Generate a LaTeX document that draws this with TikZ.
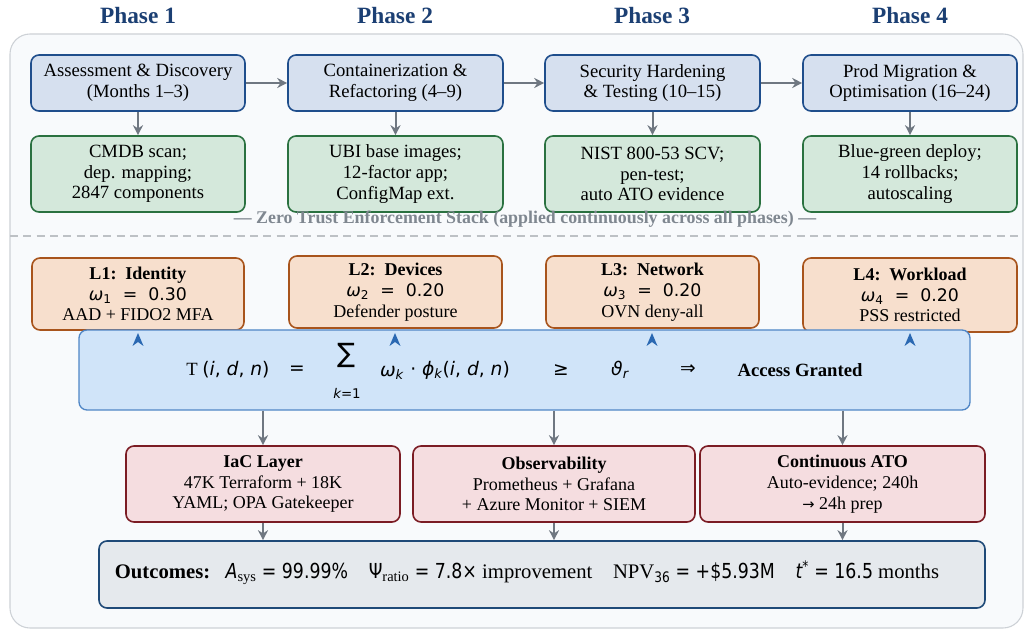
\documentclass[tikz,border=0pt]{standalone}
\usepackage{fontspec}
\setmainfont{Liberation Serif}
\newfontfamily\dvs{DejaVu Sans}
\newfontfamily\dvsn{DejaVu Sans}[FakeStretch=0.84]
\usetikzlibrary{arrows.meta}
\definecolor{phtxt}{HTML}{1B3F73}
\definecolor{bgfill}{HTML}{F8FAFC}
\definecolor{bgline}{HTML}{CDD1D6}
\definecolor{bfill}{HTML}{D6E0EF}
\definecolor{bline}{HTML}{1F4E8C}
\definecolor{gfill}{HTML}{D4E8DB}
\definecolor{gline}{HTML}{2A7140}
\definecolor{ofill}{HTML}{F7DFCD}
\definecolor{oline}{HTML}{A8541C}
\definecolor{ffill}{HTML}{D0E4F9}
\definecolor{fline}{HTML}{4F86C6}
\definecolor{rfill}{HTML}{F5DDE0}
\definecolor{rline}{HTML}{7B1C24}
\definecolor{ufill}{HTML}{E5E9ED}
\definecolor{uline}{HTML}{1F4A78}
\definecolor{agray}{HTML}{6F7781}
\definecolor{ztgray}{HTML}{7F8790}
\definecolor{tipblue}{HTML}{2A68B2}
\begin{document}
\begin{tikzpicture}[x=0.75pt,y=-0.75pt,
  sz/.style 2 args={minimum width=#1*0.75pt, minimum height=#2*0.75pt},
  basebox/.style={rounded corners=6pt, line width=1.2pt, inner sep=0pt, align=center, font=\fontsize{14}{15.6}\selectfont},
  phasebox/.style={basebox, fill=bfill, draw=bline},
  actbox/.style={basebox, fill=gfill, draw=gline},
  layerbox/.style={basebox, fill=ofill, draw=oline, font=\fontsize{13.5}{15.6}\selectfont},
  formbox/.style={basebox, fill=ffill, draw=fline, line width=1pt},
  opbox/.style={basebox, fill=rfill, draw=rline, font=\fontsize{13.5}{15.6}\selectfont},
  outbox/.style={basebox, fill=ufill, draw=uline},
  phlabel/.style={font=\fontsize{17.5}{20}\selectfont\bfseries, text=phtxt},
  flow/.style={-{Stealth[length=7.5pt,width=7.5pt]}, draw=agray, line width=1.5pt},
  tipmark/.style={fill=tipblue},
  ftxt/.style={inner sep=0pt, font=\fontsize{14}{16}\selectfont}
]
\useasboundingbox (0,0) rectangle (1025,630);
\fill[white] (0,0) rectangle (1025,630);
\draw[fill=bgfill, draw=bgline, line width=0.8pt, rounded corners=15pt] (10,34) rectangle (1023,628);

% phase labels
\node[phlabel] (ph1) at (138,16) {Phase 1};
\node[phlabel] (ph2) at (395,16) {Phase 2};
\node[phlabel] (ph3) at (652,16) {Phase 3};
\node[phlabel] (ph4) at (910,16) {Phase 4};

% phase boxes
\node[phasebox, sz={214}{56}] (p1) at (138,83) {Assessment \& Discovery\\(Months 1--3)};
\node[phasebox, sz={215}{56}] (p2) at (395.5,83) {Containerization \&\\Refactoring (4--9)};
\node[phasebox, sz={215}{56}] (p3) at (652.5,83) {Security Hardening\\\& Testing (10--15)};
\node[phasebox, sz={214}{56}] (p4) at (910,83) {Prod Migration \&\\Optimisation (16--24)};

\node[actbox, sz={214}{76}] (g1) at (138,174) {CMDB scan;\\dep. mapping;\\2847 components};
\node[actbox, sz={215}{76}] (g2) at (395.5,174) {UBI base images;\\12-factor app;\\ConfigMap ext.};
\node[actbox, sz={215}{76}] (g3) at (652.5,174) {NIST 800-53 SCV;\\pen-test;\\auto ATO evidence};
\node[actbox, sz={214}{76}] (g4) at (910,174) {Blue-green deploy;\\14 rollbacks;\\autoscaling};

\draw[flow] (p1) -- (p2);
\draw[flow] (p2) -- (p3);
\draw[flow] (p3) -- (p4);
\foreach \i in {1,2,3,4} { \draw[flow] (p\i.south) -- (g\i.north); }

% separator
\node[font=\fontsize{13.4}{14}\selectfont\bfseries, text=ztgray] (ztlabel) at (525,219) {--- Zero Trust Enforcement Stack (applied continuously across all phases) ---};
\coordinate (sepL) at (10,236);
\coordinate (sepR) at (1023,236);
\draw[draw=bgline!80!gray, line width=1.3pt, dash pattern=on 6pt off 4pt] (sepL) -- (sepR);

% layer boxes
\node[layerbox, sz={212}{72}] (l1) at (138,294) {\textbf{L1:\ \ Identity}\\{\dvs\fontsize{13}{15.6}\selectfont\itshape ω\textsubscript{\upshape 1}\upshape\ \ =\ \ 0.30}\\AAD + FIDO2 MFA};
\node[layerbox, sz={213}{72}] (l2) at (395.5,292) {\textbf{L2:\ \ Devices}\\{\dvs\fontsize{13}{15.6}\selectfont\itshape ω\textsubscript{\upshape 2}\upshape\ \ =\ \ 0.20}\\Defender posture};
\node[layerbox, sz={213}{72}] (l3) at (652.5,292) {\textbf{L3:\ \ Network}\\{\dvs\fontsize{13}{15.6}\selectfont\itshape ω\textsubscript{\upshape 3}\upshape\ \ =\ \ 0.20}\\OVN deny-all};
\node[layerbox, sz={214}{74}] (l4) at (910,295) {\textbf{L4:\ \ Workload}\\{\dvs\fontsize{13}{15.6}\selectfont\itshape ω\textsubscript{\upshape 4}\upshape\ \ =\ \ 0.20}\\PSS restricted};

% formula box
\node[formbox, sz={891}{80}] (fb) at (524.5,370) {};
\node[ftxt, anchor=west] (fT) at (186,370) {T {\dvs(\itshape i\upshape, \itshape d\upshape, \itshape n\upshape)}};
\node[ftxt] (feq) at (297,370) {\dvs =};
\node[ftxt] (fsum) at (346,355) {\dvs\fontsize{20}{20}\selectfont ∑};
\node[ftxt] (fk) at (347,393) {\dvs\fontsize{10}{10}\selectfont\itshape k\upshape=1};
\node[ftxt] (fw) at (392,373) {\dvs\itshape ω\textsubscript{k}};
\node[ftxt, anchor=west] (fphi) at (410,370) {\dvs · \itshape ϕ\textsubscript{k}\upshape(\itshape i\upshape, \itshape d\upshape, \itshape n\upshape)};
\node[ftxt] (fge) at (561,370) {\dvs ≥};
\node[ftxt] (fth) at (620,370) {\dvs\itshape ϑ\textsubscript{r}};
\node[ftxt] (fimp) at (688,370) {\dvs ⇒};
\node[ftxt] (fag) at (800,370) {\textbf{Access Granted}};

% upward tips into the layers
\foreach \i/\x in {1/138,2/395,3/652,4/910} {
  \coordinate (tb\i) at (\x,333);
  \fill[tipmark] (tb\i) -- ++(5.5,13) -- ++(-5.5,-4) -- ++(-5.5,4) -- cycle;
}

% operational boxes
\node[opbox, sz={274}{76}] (iac) at (263,484) {\textbf{IaC Layer}\\47K Terraform + 18K\\YAML; OPA Gatekeeper};
\node[opbox, sz={282}{76}] (obs) at (554,484) {\textbf{Observability}\\Prometheus + Grafana\\+ Azure Monitor + SIEM};
\node[opbox, sz={285}{76}] (ato) at (842.5,484) {\textbf{Continuous ATO}\\Auto-evidence; 240h\\{\dvs\fontsize{11}{12}\selectfont →} 24h prep};

\draw[flow] (fb.south -| iac.north) -- (iac.north);
\draw[flow] (fb.south -| obs.north) -- (obs.north);
\draw[flow] (fb.south -| ato.north) -- (ato.north);

% outcomes
\node[outbox, sz={886}{67}] (out) at (542,574.5) {};
\node[inner sep=0pt, font=\fontsize{15.5}{17}\selectfont] (outtxt) at (527,573) {\textbf{Outcomes:}\ \ \ {\dvsn\itshape A}\textsubscript{sys} {\dvsn = 99.99\%}\ \ \ \ {\dvsn Ψ}\textsubscript{ratio} {\dvsn = 7.8×} improvement\ \ \ \ NPV\textsubscript{\dvsn 36} {\dvsn = +\$5.93M}\ \ \ \ {\dvsn\itshape t}\textsuperscript{\dvsn *} {\dvsn = 16.5} months};

\draw[flow] (iac.south) -- (out.north -| iac.south);
\draw[flow] (obs.south) -- (out.north -| obs.south);
\draw[flow] (ato.south) -- (out.north -| ato.south);
\end{tikzpicture}
\end{document}
